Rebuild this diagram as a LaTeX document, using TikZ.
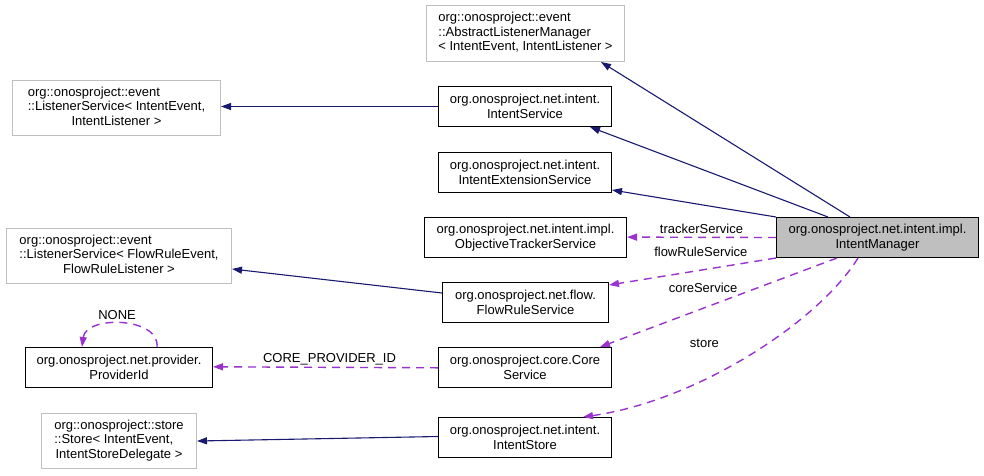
\documentclass[tikz,border=0pt]{standalone}
\usepackage{fontspec}
\setmainfont{Liberation Sans}
\usetikzlibrary{arrows.meta}
\definecolor{navy}{HTML}{191970}
\definecolor{orchid}{HTML}{9A32CD}
\definecolor{boxgray}{HTML}{BFBFBF}
\begin{document}
\begin{tikzpicture}[x=1pt,y=-1pt,
  every node/.style={font=\fontsize{13}{14.5}\selectfont, inner sep=0pt},
  cls/.style={draw=black, line width=1pt, align=center, minimum height=40pt},
  ext/.style={draw=boxgray, line width=1pt, minimum height=55pt},
  inh/.style={draw=navy, line width=1.1pt, -{Triangle[length=10pt,width=7pt]}},
  use/.style={draw=orchid, line width=1.4pt, dash pattern=on 8pt off 6pt, -{Triangle[length=10pt,width=7pt]}},
  lbl/.style={anchor=base, text=black}]
\useasboundingbox (0,0) rectangle (984,475);

% external (gray) classes
\node[ext, minimum width=198pt, minimum height=56pt] (ALM) at (525.5,33.5)
  {\begin{tabular}{@{}l@{}}org::onosproject::event\\::AbstractListenerManager\\< IntentEvent, IntentListener >\end{tabular}};
\node[ext, minimum width=208pt] (LSI) at (116.5,108)
  {\begin{tabular}{@{}l@{}}org::onosproject::event\\::ListenerService< IntentEvent,\\\multicolumn{1}{@{}c@{}}{IntentListener >}\end{tabular}};
\node[ext, minimum width=225pt] (LSF) at (119,256)
  {\begin{tabular}{@{}l@{}}org::onosproject::event\\::ListenerService< FlowRuleEvent,\\\multicolumn{1}{@{}c@{}}{FlowRuleListener >}\end{tabular}};
\node[ext, minimum width=155pt] (ST) at (119,441)
  {\begin{tabular}{@{}l@{}}org::onosproject::store\\::Store< IntentEvent,\\\multicolumn{1}{@{}c@{}}{IntentStoreDelegate >}\end{tabular}};

% project classes
\node[cls, minimum width=173pt] (IS) at (525,106.5) {org.onosproject.net.intent.\\IntentService};
\node[cls, minimum width=173pt] (IES) at (525,172.5) {org.onosproject.net.intent.\\IntentExtensionService};
\node[cls, minimum width=202pt] (OTS) at (525.5,237.5) {org.onosproject.net.intent.impl.\\ObjectiveTrackerService};
\node[cls, minimum width=166pt] (FRS) at (525.5,302.5) {org.onosproject.net.flow.\\FlowRuleService};
\node[cls, minimum width=187pt] (PID) at (119,367.5) {org.onosproject.net.provider.\\ProviderId};
\node[cls, minimum width=173pt] (CS) at (525,367.5) {org.onosproject.core.Core\\Service};
\node[cls, minimum width=173pt] (ISt) at (525,437.5) {org.onosproject.net.intent.\\IntentStore};
\node[cls, minimum width=202pt, fill=boxgray] (IM) at (877.5,237.5) {org.onosproject.net.intent.impl.\\IntentManager};

% inheritance
\draw[inh] ([xshift=-27.5pt]IM.north) -- ([xshift=75.5pt]ALM.south);
\draw[inh] ([xshift=-49.5pt]IM.north) -- ([xshift=65pt]IS.south);
\draw[inh] (IM.north west) -- ([yshift=-17.5pt]IES.east);
\draw[inh] (IS.west) -- (IS.west -| LSI.east);
\draw[inh] ([yshift=9.5pt]FRS.west) -- ([yshift=-13pt]LSF.east);
\draw[inh] ([yshift=1pt]ISt.west) -- (ST.east);

% usage
\draw[use] (IM.west) -- node[lbl, midway, yshift=4pt] {trackerService} ([yshift=0.4pt]OTS.east);
\draw[use] (IM.south west) -- node[lbl, pos=0.45, yshift=13.6pt] {flowRuleService} ([yshift=17.5pt]FRS.east);
\draw[use] ([xshift=-40.5pt]IM.south) -- node[lbl, pos=0.565, yshift=16pt] {coreService} ([xshift=75pt]CS.north);
\draw[use] ([xshift=-19.5pt]IM.south) .. controls (820,320) and (700,400) .. node[lbl, pos=0.6, xshift=-15pt, yshift=24.5pt] {store} ([xshift=58pt]ISt.north);
\draw[use] ([yshift=-0.3pt]CS.west) -- node[lbl, midway, xshift=4pt, yshift=5pt] {CORE\_PROVIDER\_ID} ([yshift=0.7pt]PID.east);
\draw[use] ([xshift=38pt]PID.north) .. controls +(3,-30) and +(4,-32) .. node[lbl, pos=0.5, xshift=-5pt, yshift=4pt] {NONE} ([xshift=-37pt]PID.north);
\end{tikzpicture}
\end{document}
